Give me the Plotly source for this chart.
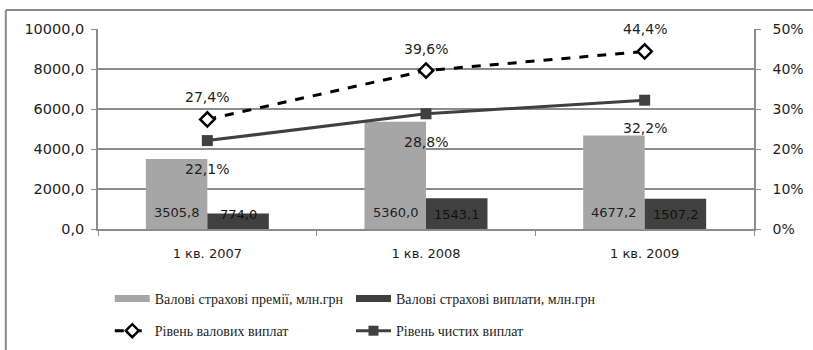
import plotly.graph_objects as go

# Quarterly insurance market data
quarters = ["1 кв. 2007", "1 кв. 2008", "1 кв. 2009"]
gross_premiums = [3505.8, 5360.0, 4677.2]      # млн.грн
gross_payments = [774.0, 1543.1, 1507.2]       # млн.грн
gross_pay_level = [27.4, 39.6, 44.4]           # %
net_pay_level = [22.1, 28.8, 32.2]             # %

left_ticks = [0, 2000, 4000, 6000, 8000, 10000]
right_ticks = [0, 10, 20, 30, 40, 50]
right_tick_text = [f"{t}%" for t in right_ticks]

LIGHT = "#a6a6a6"
DARK = "#404040"
GRID = "#8c8c8c"
TXT = "#1e1e1e"
FONT = "DejaVu Sans"
LEG_FONT = "Liberation Serif"


def comma(v, suffix=""):
    return f"{v:.1f}".replace(".", ",") + suffix


fig = go.Figure()

fig.add_trace(go.Bar(
    x=quarters, y=gross_premiums, marker=dict(color=LIGHT, line=dict(width=0)),
    name="Валові страхові премії, млн.грн", showlegend=False,
))
fig.add_trace(go.Bar(
    x=quarters, y=gross_payments, marker=dict(color=DARK, line=dict(width=0)),
    name="Валові страхові виплати, млн.грн", showlegend=False,
))

fig.add_trace(go.Scatter(
    x=quarters, y=gross_pay_level, yaxis="y2", mode="lines+markers",
    line=dict(color="#000000", width=3, dash="dash"),
    marker=dict(symbol="diamond", size=11, color="#ffffff",
                line=dict(color="#000000", width=2.5)),
    name="Рівень валових виплат", showlegend=False,
))
fig.add_trace(go.Scatter(
    x=quarters, y=net_pay_level, yaxis="y2", mode="lines+markers",
    line=dict(color=DARK, width=3),
    marker=dict(symbol="square", size=11, color=DARK),
    name="Рівень чистих виплат", showlegend=False,
))

# Legend entries, one legend box per entry in a 2x2 arrangement
fig.add_trace(go.Scatter(x=[None], y=[None], mode="lines",
                         line=dict(color=LIGHT, width=7),
                         name="Валові страхові премії, млн.грн", legend="legend"))
fig.add_trace(go.Scatter(x=[None], y=[None], mode="lines",
                         line=dict(color=DARK, width=7),
                         name="Валові страхові виплати, млн.грн", legend="legend2"))
fig.add_trace(go.Scatter(x=[None], y=[None], yaxis="y2", mode="lines+markers",
                         line=dict(color="#000000", width=3, dash="dash"),
                         marker=dict(symbol="diamond", size=10, color="#ffffff",
                                     line=dict(color="#000000", width=2.5)),
                         name="Рівень валових виплат", legend="legend3"))
fig.add_trace(go.Scatter(x=[None], y=[None], yaxis="y2", mode="lines+markers",
                         line=dict(color=DARK, width=3),
                         marker=dict(symbol="square", size=10, color=DARK),
                         name="Рівень чистих виплат", legend="legend4"))

annotations = []
for q, v in zip(quarters, gross_premiums):
    annotations.append(dict(x=q, y=0, yref="y", text=comma(v), showarrow=False,
                            xshift=-30.5, yshift=17, font=dict(size=13, color=TXT, family=FONT)))
for q, v in zip(quarters, gross_payments):
    annotations.append(dict(x=q, y=0, yref="y", text=comma(v), showarrow=False,
                            xshift=31, yshift=15, font=dict(size=13, color="#111111", family=FONT)))
for q, v in zip(quarters, gross_pay_level):
    annotations.append(dict(x=q, y=v, yref="y2", text=comma(v, "%"), showarrow=False,
                            yshift=22, font=dict(size=14, color=TXT, family=FONT)))
for q, v in zip(quarters, net_pay_level):
    annotations.append(dict(x=q, y=v, yref="y2", text=comma(v, "%"), showarrow=False,
                            yshift=-28, font=dict(size=14, color=TXT, family=FONT)))

legend_common = dict(orientation="h", xanchor="left", yanchor="middle",
                     xref="container", yref="container", itemwidth=35,
                     font=dict(family=LEG_FONT, size=14, color=TXT),
                     bgcolor="rgba(0,0,0,0)", borderwidth=0, tracegroupgap=0)

col1_x, col2_x = 0.135, 0.4317
row1_y, row2_y = 0.146, 0.054

fig.update_layout(
    width=813, height=350,
    margin=dict(l=98, r=59, t=29, b=121, autoexpand=False),
    paper_bgcolor="#ffffff", plot_bgcolor="#ffffff",
    separators=", ",
    barmode="group", bargap=0.4375, bargroupgap=0,
    font=dict(family=FONT, color=TXT),
    xaxis=dict(
        type="category", showgrid=False, showline=True, linecolor=GRID, linewidth=1.5,
        ticks="outside", tickson="boundaries", ticklen=5, tickcolor=GRID,
        tickfont=dict(size=13, color=TXT), ticklabelstandoff=12,
    ),
    yaxis=dict(
        range=[0, 10000], tickvals=left_ticks, tickformat=".1f",
        showgrid=True, gridcolor=GRID, gridwidth=1.5, zeroline=False,
        showline=True, linecolor=GRID, linewidth=1.5,
        ticks="outside", ticklen=5, tickcolor=GRID,
        tickfont=dict(size=14.5, color=TXT), ticklabelstandoff=4,
    ),
    yaxis2=dict(
        range=[0, 50], tickvals=right_ticks, ticktext=right_tick_text,
        overlaying="y", side="right", showgrid=False, zeroline=False,
        showline=True, linecolor=GRID, linewidth=1.5,
        ticks="outside", ticklen=5, tickcolor=GRID,
        tickfont=dict(size=14, color=TXT), ticklabelstandoff=9,
    ),
    legend=dict(x=col1_x, y=row1_y, **legend_common),
    legend2=dict(x=col2_x, y=row1_y, **legend_common),
    legend3=dict(x=col1_x, y=row2_y, **legend_common),
    legend4=dict(x=col2_x, y=row2_y, **legend_common),
    annotations=annotations,
    shapes=[
        dict(type="line", xref="paper", yref="paper", x0=-0.1405, x1=-0.1405,
             y0=1.095, y1=-0.62, line=dict(color="#8a8a8a", width=2)),
        dict(type="line", xref="paper", yref="paper", x0=-0.1405, x1=1.1,
             y0=1.095, y1=1.095, line=dict(color="#8a8a8a", width=2)),
    ],
)

fig.write_html("out.html")
